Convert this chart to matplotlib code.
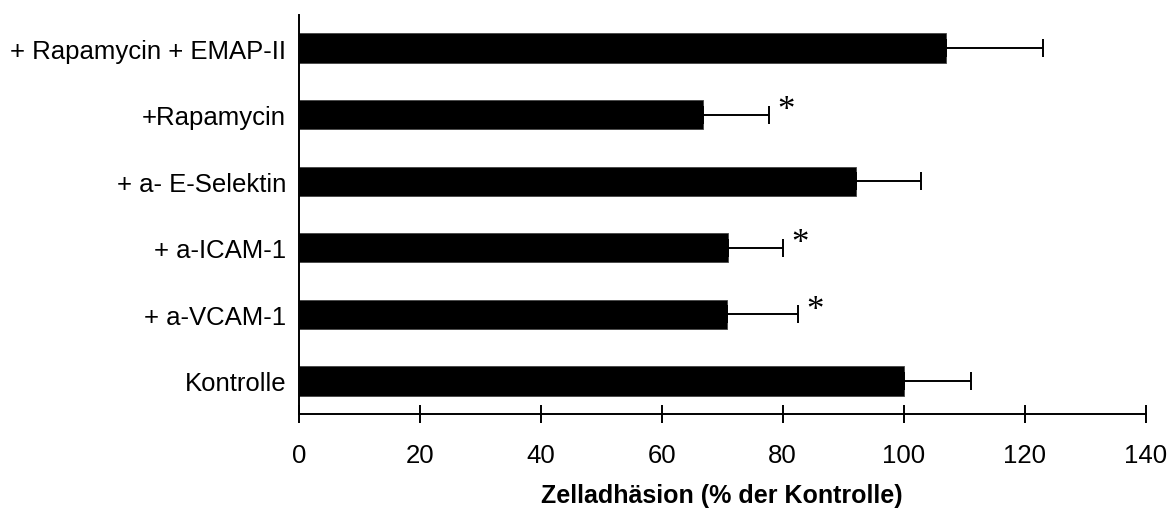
import numpy as np
import matplotlib.pyplot as plt

plt.rcParams['font.family'] = ['Liberation Sans', 'DejaVu Sans']

# bottom to top, as drawn on the y axis
gruppen = ['Kontrolle', '+ a-VCAM-1', '+ a-ICAM-1', '+ a- E-Selektin',
           '+Rapamycin', '+ Rapamycin + EMAP-II']
adhaesion = [100.0, 70.8, 71.0, 92.2, 66.8, 107.0]
fehler = [11.1, 11.8, 9.0, 10.6, 10.9, 16.1]
signifikant = [False, True, True, False, True, False]

fig = plt.figure(figsize=(11.71, 5.10), dpi=100)
ax = fig.add_axes([0.2551, 0.186, 0.7232, 0.783])

y = np.arange(len(gruppen))
ax.barh(y, adhaesion, height=0.44, color='black', edgecolor='#444444', linewidth=0.6)
ax.errorbar(adhaesion, y, xerr=[np.zeros(len(fehler)), fehler], fmt='none',
            ecolor='black', elinewidth=1.4, capsize=6.5, capthick=1.4)

for yi, wert, err, sig in zip(y, adhaesion, fehler, signifikant):
    if sig:
        ax.annotate('*', xy=(wert + err, yi), xytext=(17, 4), textcoords='offset pixels',
                    ha='center', va='center', fontsize=25, family='Liberation Serif')

ax.set_xlim(0, 140)
ax.set_ylim(-0.5, len(gruppen) - 0.5)
ax.set_xticks(np.arange(0, 141, 20))
ax.set_yticks(y)
ax.set_yticklabels(gruppen)
ax.tick_params(axis='x', direction='inout', length=13, width=1.4, labelsize=18.5, pad=14)
ax.tick_params(axis='y', length=0, labelsize=18.5, pad=9)

for side in ['top', 'right']:
    ax.spines[side].set_visible(False)
for side in ['left', 'bottom']:
    ax.spines[side].set_linewidth(1.4)

ax.set_xlabel('Zelladhäsion (% der Kontrolle)', fontsize=18, fontweight='bold', labelpad=12)

fig.savefig('out.png', dpi=100)
